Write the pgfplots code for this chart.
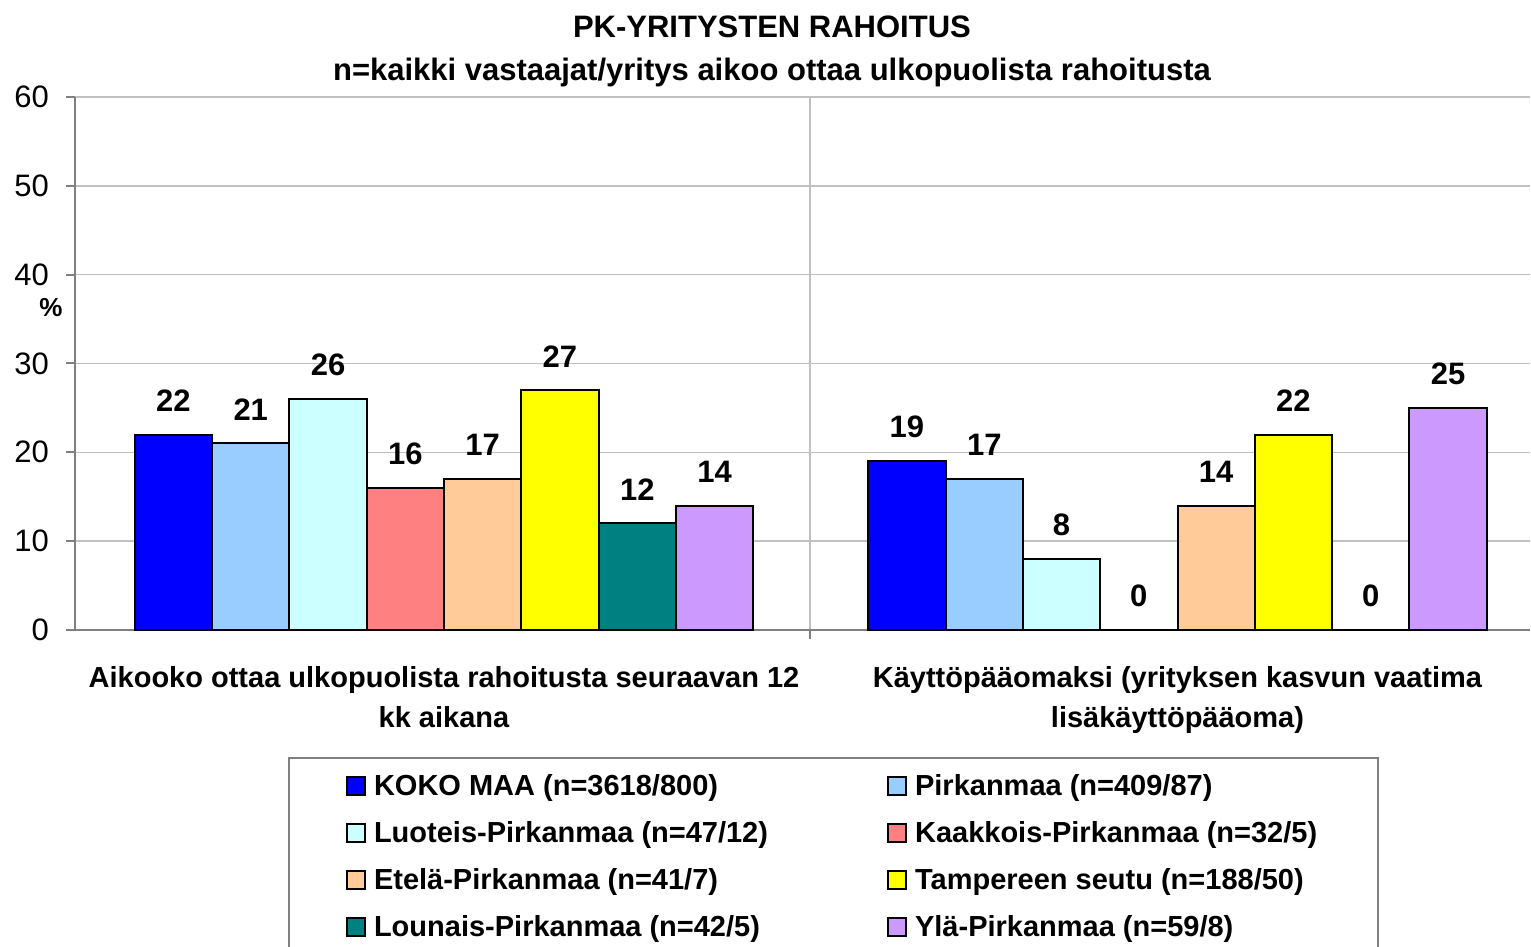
\documentclass[border=0pt]{standalone}
\usepackage{pgfplots}
\pgfplotsset{compat=1.18}
\usepackage{fontspec}
\setmainfont{Liberation Sans}

\definecolor{cKoko}{HTML}{0000FF}
\definecolor{cPirk}{HTML}{99CCFF}
\definecolor{cLuot}{HTML}{CCFFFF}
\definecolor{cKaak}{HTML}{FF8080}
\definecolor{cEtel}{HTML}{FFCC99}
\definecolor{cTamp}{HTML}{FFFF00}
\definecolor{cLoun}{HTML}{008080}
\definecolor{cYla}{HTML}{CC99FF}
\definecolor{axgray}{HTML}{808080}
\definecolor{gridgray}{HTML}{C0C0C0}

\begin{document}
\begin{tikzpicture}
\begin{axis}[
    name=ax,
    scale only axis,
    width=727.5pt, height=266.5pt,
    xmin=75, xmax=1530, ymin=0, ymax=60,
    enlargelimits=false,
    clip=false,
    ybar=0pt, bar width=77.3,
    axis x line*=bottom, axis y line*=left,
    axis line style={-, draw=axgray, line width=1pt},
    tick align=outside, major tick length=4.5pt,
    tick style={draw=axgray, line width=1pt},
    ytick={0,10,...,60},
    ymajorgrids, xmajorgrids,
    grid style={gridgray, line width=0.75pt},
    xtick={810}, xticklabels={},
    extra x ticks={444,1177.5},
    extra x tick labels={{Aikooko ottaa ulkopuolista rahoitusta seuraavan 12\\kk aikana},
                         {Käyttöpääomaksi (yrityksen kasvun vaatima\\lisäkäyttöpääoma)}},
    extra x tick style={grid=none, major tick length=0pt},
    xticklabel style={align=center, font=\bfseries\fontsize{14.5}{20}\selectfont, yshift=-14.5pt},
    yticklabel style={font=\fontsize{15.5}{18}\selectfont, xshift=-5pt},
    /pgf/number format/assume math mode=true,
    title={PK-YRITYSTEN RAHOITUS\\n=kaikki vastaajat/yritys aikoo ottaa ulkopuolista rahoitusta},
    title style={at={(axis description cs:0.479,1)}, anchor=south, align=center,
                 font=\bfseries\fontsize{15.5}{21.5}\selectfont, yshift=-4.5pt},
    every axis plot/.append style={draw=black, line width=1pt},
    nodes near coords,
    nodes near coords style={font=\bfseries\fontsize{15.5}{18}\selectfont, anchor=south, yshift=7.7pt},
    legend columns=2,
    legend cell align=left,
    legend image code/.code={\draw[#1, line width=1pt] (0pt,-4.5pt) rectangle (9pt,4.5pt);},
    legend style={at={(axis description cs:0.1464,0)}, anchor=north west, yshift=-63.5pt,
                  draw=axgray, line width=1pt, inner xsep=28.5pt, inner ysep=6pt,
                  font=\bfseries\fontsize{14.5}{17}\selectfont, row sep=7.5pt,
                  /tikz/every odd column/.append style={column sep=2pt},
                  /tikz/every even column/.append style={column sep=57.5pt}},
]
\addplot[fill=cKoko] coordinates {(444,22) (1177.5,19)};
\addlegendentry{KOKO MAA (n=3618/800)}
\addplot[fill=cPirk] coordinates {(444,21) (1177.5,17)};
\addlegendentry{Pirkanmaa (n=409/87)}
\addplot[fill=cLuot] coordinates {(444,26) (1177.5,8)};
\addlegendentry{Luoteis-Pirkanmaa (n=47/12)}
\addplot[fill=cKaak] coordinates {(444,16) (1177.5,0)};
\addlegendentry{Kaakkois-Pirkanmaa (n=32/5)}
\addplot[fill=cEtel] coordinates {(444,17) (1177.5,14)};
\addlegendentry{Etelä-Pirkanmaa (n=41/7)}
\addplot[fill=cTamp] coordinates {(444,27) (1177.5,22)};
\addlegendentry{Tampereen seutu (n=188/50)}
\addplot[fill=cLoun] coordinates {(444,12) (1177.5,0)};
\addlegendentry{Lounais-Pirkanmaa (n=42/5)}
\addplot[fill=cYla] coordinates {(444,14) (1177.5,25)};
\addlegendentry{Ylä-Pirkanmaa (n=59/8)}
\node[font=\bfseries\fontsize{13}{15}\selectfont, xshift=-12pt] at (rel axis cs:0,0.604) {\%};
\coordinate (BL) at (rel axis cs:0,0);
\coordinate (TR) at (rel axis cs:1,1);
\end{axis}
\pgfresetboundingbox
\path ([xshift=-37.5pt,yshift=-158.5pt]BL) rectangle ([xshift=0.5pt,yshift=48.5pt]TR);
\end{tikzpicture}
\end{document}
